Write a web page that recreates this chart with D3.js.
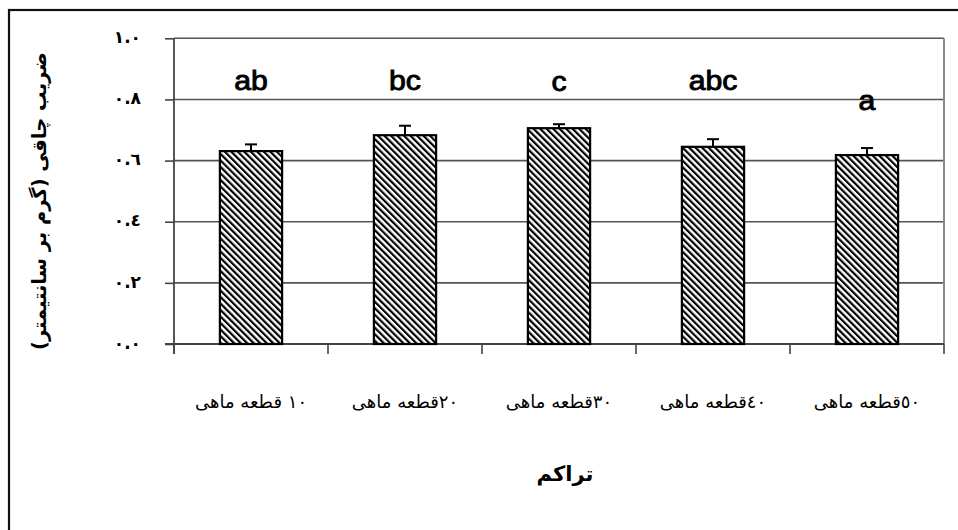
<!DOCTYPE html>
<html>
<head>
<meta charset="utf-8">
<script src="https://cdn.jsdelivr.net/npm/d3@7"></script>
<style>
  html, body { margin: 0; padding: 0; background: #fff; }
  svg { display: block; }
</style>
</head>
<body>
<svg id="chart" width="958" height="530"></svg>
<script>
// ---- data ----
const categories = ["١٠ قطعه ماهی", "٢٠قطعه ماهی", "٣٠قطعه ماهی", "٤٠قطعه ماهی", "٥٠قطعه ماهی"];
const values = [0.631, 0.683, 0.706, 0.645, 0.618];
const errors = [0.022, 0.031, 0.013, 0.025, 0.023];
const letters = ["ab", "bc", "c", "abc", "a"];
const letterValues = [0.831, 0.831, 0.828, 0.831, 0.764];
const yTicks = [0, 0.2, 0.4, 0.6, 0.8, 1.0];
const yTickLabels = ["٠.٠", "٠.٢", "٠.٤", "٠.٦", "٠.٨", "١.٠"];
const yTitle = "ضریب چاقی (گرم بر سانتیمتر)";
const xTitle = "تراکم";

// ---- layout ----
const svg = d3.select("#chart");
const plot = { left: 174, right: 944, top: 38.3, bottom: 344 };

const x = d3.scaleBand().domain(categories).range([plot.left, plot.right]).paddingInner(0.596).paddingOuter(0.298);
const xOuter = d3.scaleBand().domain(categories).range([plot.left, plot.right]);
const y = d3.scaleLinear().domain([0, 1]).range([plot.bottom, plot.top]);

// outer frame
svg.append("rect").attr("x", 9).attr("y", 10).attr("width", 960).attr("height", 530)
  .attr("fill", "none").attr("stroke", "#111").attr("stroke-width", 2.2);

// hatch pattern
const defs = svg.append("defs");
const pat = defs.append("pattern").attr("id", "hatch").attr("patternUnits", "userSpaceOnUse")
  .attr("width", 4.6).attr("height", 10).attr("patternTransform", "rotate(-45)");
pat.append("rect").attr("width", 4.6).attr("height", 10).attr("fill", "#fff");
pat.append("rect").attr("width", 2.2).attr("height", 10).attr("fill", "#000");

// gridlines
svg.append("g").selectAll("line").data(yTicks.filter(d => d > 0)).join("line")
  .attr("x1", plot.left).attr("x2", plot.right)
  .attr("y1", d => y(d)).attr("y2", d => y(d))
  .attr("stroke", "#555").attr("stroke-width", 1.6);

// right border of plot area
svg.append("line").attr("x1", plot.right).attr("x2", plot.right)
  .attr("y1", plot.top).attr("y2", plot.bottom)
  .attr("stroke", "#8a8a8a").attr("stroke-width", 2);

// y axis
const yAxis = d3.axisLeft(y).tickValues(yTicks).tickSize(9).tickFormat((d, i) => yTickLabels[i]);
const gy = svg.append("g").attr("transform", `translate(${plot.left},0)`).call(yAxis);
gy.select(".domain").remove();
gy.selectAll(".tick line").attr("stroke", "#444").attr("stroke-width", 1.6);
gy.selectAll(".tick text").attr("x", -33).attr("dy", "0.25em")
  .attr("font-family", "DejaVu Sans").attr("font-size", 17).attr("font-weight", "bold").attr("fill", "#000");
svg.append("line").attr("x1", plot.left).attr("x2", plot.left).attr("y1", plot.top).attr("y2", plot.bottom + 10)
  .attr("stroke", "#444").attr("stroke-width", 1.8);

// x axis
const xTickPos = categories.map(c => xOuter(c)).concat([plot.right]);
svg.append("g").selectAll("line").data(xTickPos).join("line")
  .attr("x1", d => d).attr("x2", d => d).attr("y1", plot.bottom).attr("y2", plot.bottom + 10)
  .attr("stroke", "#444").attr("stroke-width", 1.6);
svg.append("line").attr("x1", plot.left - 9).attr("x2", plot.right).attr("y1", plot.bottom).attr("y2", plot.bottom)
  .attr("stroke", "#444").attr("stroke-width", 1.8);

// bars
svg.append("g").selectAll("rect").data(values).join("rect")
  .attr("x", (d, i) => x(categories[i]))
  .attr("y", d => y(d))
  .attr("width", x.bandwidth())
  .attr("height", d => y(0) - y(d))
  .attr("fill", "url(#hatch)")
  .attr("stroke", "#000").attr("stroke-width", 2.2);

// error bars
const eg = svg.append("g");
values.forEach((v, i) => {
  const cx = x(categories[i]) + x.bandwidth() / 2;
  eg.append("line").attr("x1", cx).attr("x2", cx).attr("y1", y(v)).attr("y2", y(v + errors[i]))
    .attr("stroke", "#000").attr("stroke-width", 2);
  eg.append("line").attr("x1", cx - 6).attr("x2", cx + 6).attr("y1", y(v + errors[i])).attr("y2", y(v + errors[i]))
    .attr("stroke", "#000").attr("stroke-width", 2);
});

// letters
svg.append("g").selectAll("text").data(letters).join("text")
  .attr("transform", (d, i) => `translate(${x(categories[i]) + x.bandwidth() / 2},${y(letterValues[i])}) scale(1.12,1)`)
  .attr("text-anchor", "middle")
  .attr("font-family", "Liberation Sans, Arial, sans-serif")
  .attr("font-size", 27)
  .attr("stroke", "#000").attr("stroke-width", 0.9)
  .text(d => d);

// x tick labels
svg.append("g").selectAll("text").data(categories).join("text")
  .attr("x", d => xOuter(d) + xOuter.bandwidth() / 2)
  .attr("y", 408)
  .attr("text-anchor", "middle")
  .attr("direction", "rtl")
  .attr("font-family", "DejaVu Sans").attr("font-size", 18)
  .text(d => d);

// x title
svg.append("text").attr("x", 565).attr("y", 481)
  .attr("text-anchor", "middle").attr("direction", "rtl")
  .attr("font-family", "DejaVu Sans").attr("font-weight", "bold").attr("font-size", 21)
  .text(xTitle);

// y title
svg.append("text").attr("transform", `translate(46,201) rotate(-90)`)
  .attr("text-anchor", "middle").attr("direction", "rtl")
  .attr("font-family", "DejaVu Sans").attr("font-weight", "bold").attr("font-size", 19.5)
  .text(yTitle);
</script>
</body>
</html>
